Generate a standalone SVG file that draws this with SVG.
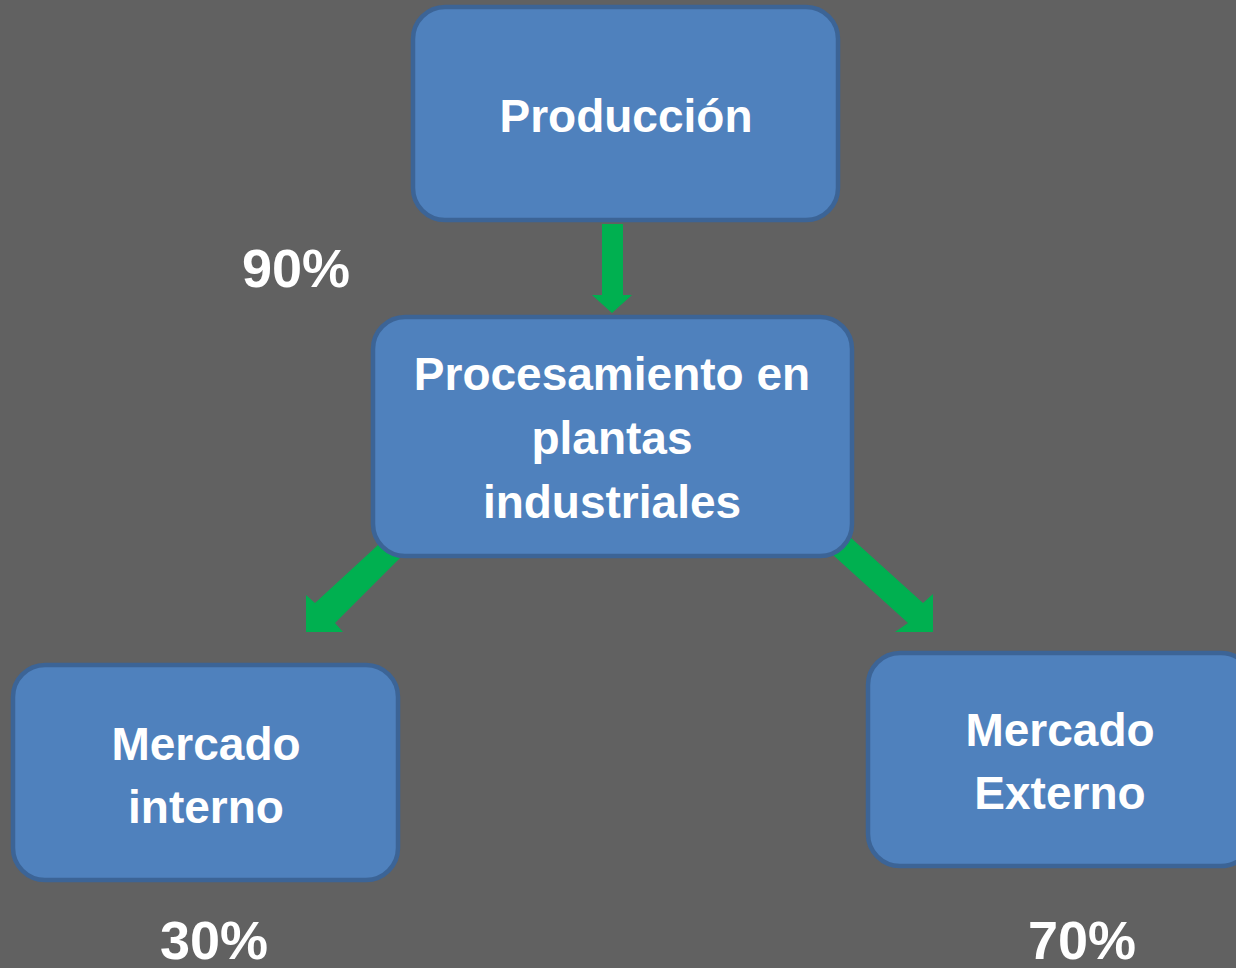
<svg xmlns="http://www.w3.org/2000/svg" width="1236" height="968" viewBox="0 0 1236 968">
<style>
.box{fill:#4f81bd;stroke:#3c6496;stroke-width:4.5}
.t{font-family:"Liberation Sans",Arial,sans-serif;font-weight:bold;font-size:46px;fill:#ffffff;text-anchor:middle}
.p{font-size:54px}
.arr{fill:#00b050}
</style>
<rect width="1236" height="968" fill="#616161"/>
<g id="connectors">
<polygon class="arr" points="602,224 623,224 623,295 632,295 612,313 592,295 602,295"/>
<polygon class="arr" points="378,545 400,558 335,623 343,632 306,632 306,595 315,603"/>
<polygon class="arr" points="850,537 833,555 908,623 895,632 933,632 933,594 923,603"/>
</g>
<g id="produccion">
<rect class="box" x="413" y="7" width="425" height="213" rx="32"/>
<text class="t" x="626" y="132">Producción</text>
</g>
<g id="procesamiento">
<rect class="box" x="373" y="317" width="479" height="239" rx="32"/>
<text class="t" x="612" y="390">Procesamiento en</text>
<text class="t" x="612" y="454">plantas</text>
<text class="t" x="612" y="518">industriales</text>
</g>
<g id="mercado-interno">
<rect class="box" x="13" y="665" width="385" height="215" rx="32"/>
<text class="t" x="206" y="760">Mercado</text>
<text class="t" x="206" y="823">interno</text>
</g>
<g id="mercado-externo">
<rect class="box" x="868" y="653" width="385" height="213" rx="32"/>
<text class="t" x="1060" y="746">Mercado</text>
<text class="t" x="1060" y="809">Externo</text>
</g>
<g id="labels">
<text class="t p" x="296" y="287">90%</text>
<text class="t p" x="214" y="959">30%</text>
<text class="t p" x="1082" y="959">70%</text>
</g>
</svg>
